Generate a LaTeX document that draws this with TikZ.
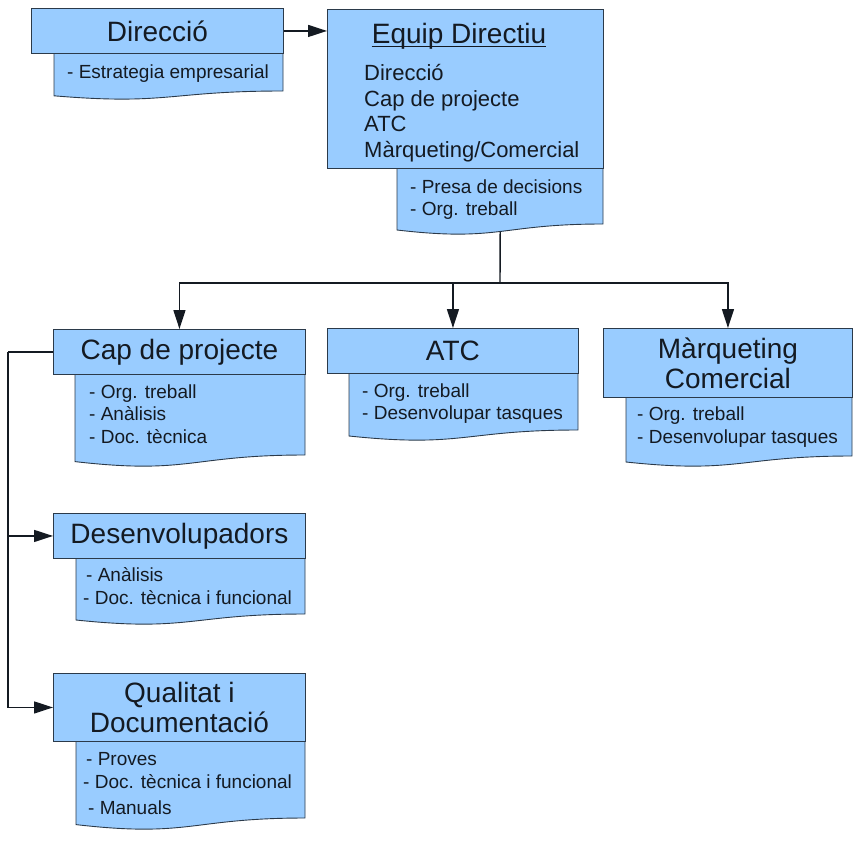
\documentclass[tikz,border=0pt]{standalone}
\usepackage{fontspec}
\setmainfont{Liberation Sans}
\usetikzlibrary{arrows.meta}
\definecolor{boxfill}{HTML}{99CCFF}
\definecolor{boxline}{HTML}{2B3A4A}
\definecolor{ink}{HTML}{141A22}

% Document-shaped task list: name, left, top, right, lowest point of the wave, wave depth
\newcommand\docshape[6]{%
  \filldraw[box] (#2,#3) -- (#4,#3) -- (#4,{#5-#6})
    .. controls ({(#2+#4)/2},{#5-#6}) and ({(#2+#4)/2},{#5+0.8*#6}) .. (#2,{#5-0.4*#6}) -- cycle;
  \node[inner sep=0pt, anchor=north west, minimum width={#4-#2}, minimum height={#5-0.25*#6-#3}] (#1) at (#2,#3) {};
}

\begin{document}
\begin{tikzpicture}[x=1pt,y=-1pt,
  box/.style={fill=boxfill, draw=boxline, line width=0.9pt},
  titlebox/.style={box, inner sep=0pt, anchor=north west, text=ink,
    font=\fontsize{28}{30}\selectfont, align=center},
  bodytext/.style={inner sep=0pt, text=ink, font=\fontsize{22}{25}\selectfont, anchor=base west},
  subtext/.style={inner sep=0pt, text=ink, font=\fontsize{19}{22}\selectfont, anchor=base west},
  link/.style={draw=ink, line width=1.4pt},
  arrow/.style={link, -{Triangle[length=19pt,width=12pt]}}]
\useasboundingbox (0,0) rectangle (853,841);

% task lists (drawn first so the title boxes sit on top)
\docshape{dird}{54}{53}{283}{99}{8}
\docshape{eqd}{397}{168}{603}{234}{10}
\docshape{capd}{75}{374}{305}{466}{11}
\docshape{atcd}{349}{373}{578}{440}{10}
\docshape{mktd}{626}{397}{852}{466}{10}
\docshape{devd}{76}{558}{305}{624}{10}
\docshape{quad}{76}{741}{305}{829}{11}

% title boxes
\node[titlebox, minimum width=252pt, minimum height=45pt] (dir) at (31,8) {Direcció};
\node[titlebox, minimum width=276pt, minimum height=159pt] (eq) at (327,9) {};
\node[titlebox, minimum width=252pt, minimum height=45pt] (cap) at (53,329) {Cap de projecte};
\node[titlebox, minimum width=251pt, minimum height=45pt] (atc) at (327,328) {ATC};
\node[titlebox, minimum width=249pt, minimum height=69pt] (mkt) at (603,328) {Màrqueting\\Comercial};
\node[titlebox, minimum width=252pt, minimum height=45pt] (dev) at (53,513) {Desenvolupadors};
\node[titlebox, minimum width=252pt, minimum height=68pt] (qua) at (53,673) {Qualitat i\\Documentació};

% management team contents
\node[inner sep=0pt, text=ink, font=\fontsize{28}{30}\selectfont, anchor=base] (eqtitle) at (459,43) {Equip Directiu};
\draw[ink, line width=1pt] ([yshift=-3pt]eqtitle.base west) -- ([yshift=-3pt]eqtitle.base east);
\node[bodytext] (eq1) at (364,80) {Direcció};
\node[bodytext] (eq2) at (364,106) {Cap de projecte};
\node[bodytext] (eq3) at (364,131) {ATC};
\node[bodytext] (eq4) at (364,157) {Màrqueting/Comercial};

% task texts
\node[subtext] (dird1) at (67,78) {- Estrategia empresarial};
\node[subtext] (eqd1) at (410,193) {- Presa de decisions};
\node[subtext] (eqd2) at (410,215.5) {- Org. treball};
\node[subtext] (capd1) at (89,398) {- Org. treball};
\node[subtext] (capd2) at (89,420.5) {- Anàlisis};
\node[subtext] (capd3) at (89,443) {- Doc. tècnica};
\node[subtext] (atcd1) at (362,397) {- Org. treball};
\node[subtext] (atcd2) at (362,419.5) {- Desenvolupar tasques};
\node[subtext] (mktd1) at (637,420) {- Org. treball};
\node[subtext] (mktd2) at (637,443) {- Desenvolupar tasques};
\node[subtext] (devd1) at (86,581.5) {- Anàlisis};
\node[subtext] (devd2) at (83,604) {- Doc. tècnica i funcional};
\node[subtext] (quad1) at (86,765) {- Proves};
\node[subtext] (quad2) at (83,788.5) {- Doc. tècnica i funcional};
\node[subtext] (quad3) at (88,814) {- Manuals};

% connectors
\draw[arrow] (dir.east) -- (dir.east -| eq.west);
\coordinate (bus) at (500,283);
\draw[link] (eqd.south) -- (bus);
\draw[arrow] (bus) -| (cap.north);
\draw[arrow] (bus) -| (atc.north);
\draw[arrow] (bus) -| (mkt.north);
\coordinate (spine) at ([xshift=-45pt]cap.west);
\draw[link] (cap.west) -- (spine);
\draw[arrow] (spine) |- (dev.west);
\draw[arrow] (spine) |- (qua.west);
\end{tikzpicture}
\end{document}
